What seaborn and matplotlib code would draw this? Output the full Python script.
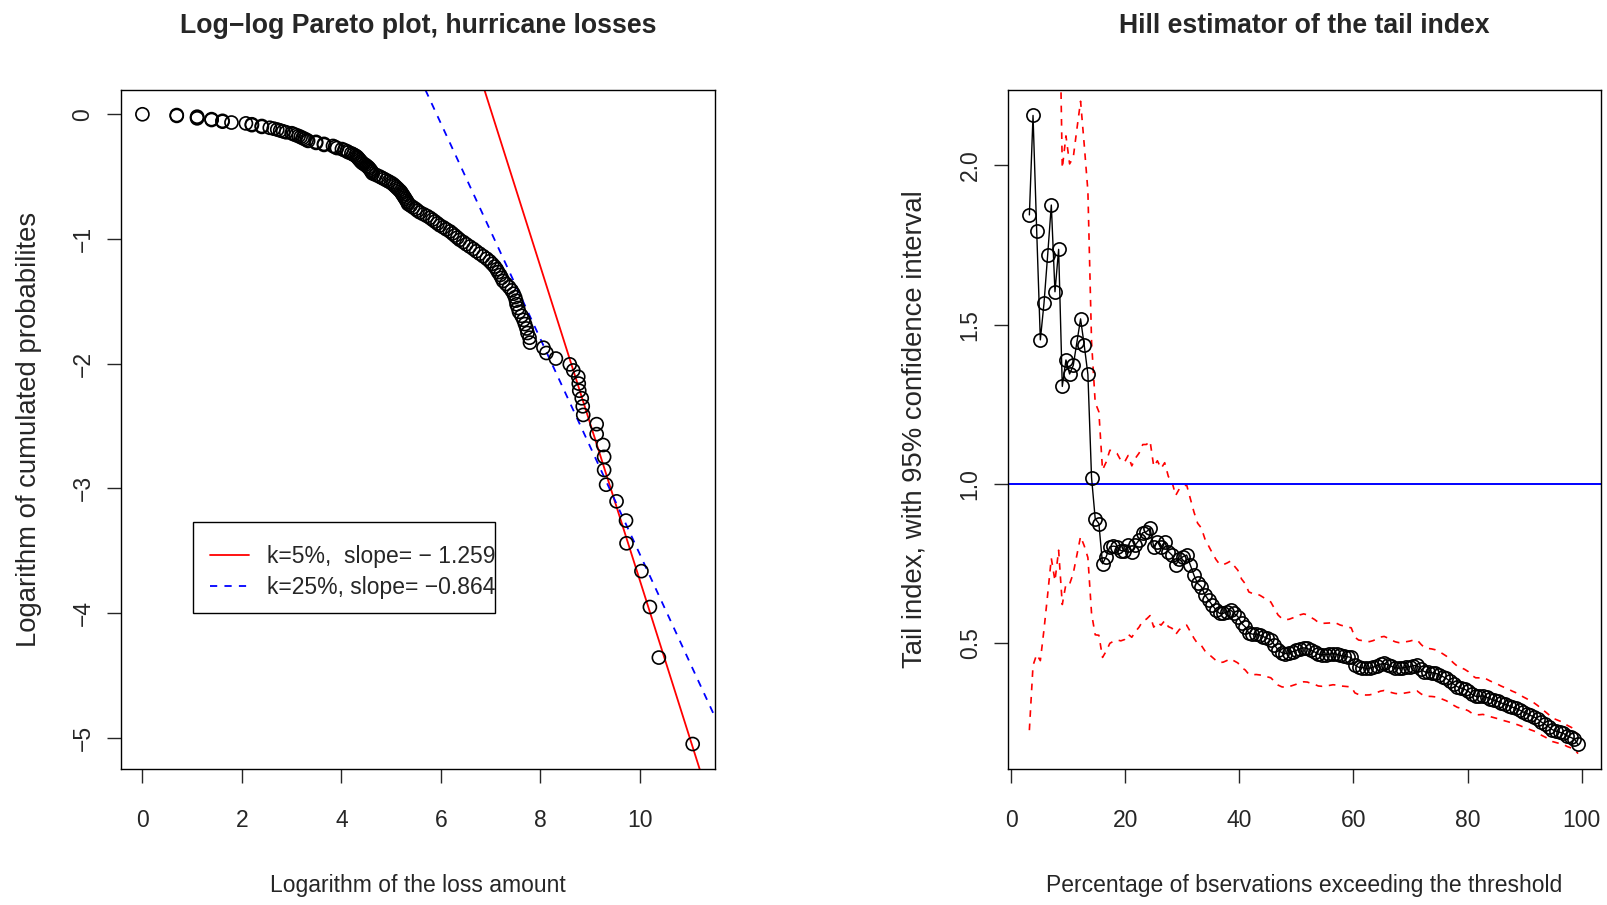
import numpy as np
import pandas as pd
import matplotlib
matplotlib.use("Agg")
import matplotlib.pyplot as plt
import seaborn as sns
from matplotlib.lines import Line2D
from matplotlib.patches import Rectangle

# --- data ---
# log of the loss amounts, sorted (one value per observation)
log_loss = [
    0.00, 0.69, 0.69, 1.10, 1.10, 1.10, 1.39, 1.39, 1.61, 1.61,
    1.79, 2.08, 2.20, 2.20, 2.40, 2.40, 2.56, 2.64, 2.71, 2.77,
    2.83, 2.89, 3.00, 3.04, 3.09, 3.14, 3.18, 3.22, 3.26, 3.30,
    3.33, 3.49, 3.49, 3.65, 3.65, 3.83, 3.87, 3.91, 4.01, 4.06,
    4.11, 4.14, 4.20, 4.24, 4.28, 4.31, 4.33, 4.35, 4.37, 4.39,
    4.41, 4.44, 4.48, 4.51, 4.54, 4.56, 4.58, 4.60, 4.61, 4.63,
    4.69, 4.75, 4.80, 4.85, 4.90, 4.95, 5.00, 5.04, 5.07, 5.10,
    5.13, 5.16, 5.19, 5.21, 5.23, 5.25, 5.27, 5.29, 5.31, 5.33,
    5.34, 5.39, 5.44, 5.49, 5.53, 5.58, 5.65, 5.72, 5.78, 5.83,
    5.88, 5.93, 5.98, 6.05, 6.11, 6.18, 6.23, 6.28, 6.33, 6.38,
    6.45, 6.51, 6.58, 6.65, 6.71, 6.78, 6.85, 6.92, 6.98, 7.03,
    7.08, 7.12, 7.15, 7.19, 7.22, 7.25, 7.31, 7.37, 7.42, 7.46,
    7.49, 7.51, 7.52, 7.55, 7.57, 7.62, 7.66, 7.69, 7.72, 7.74,
    7.78, 7.79, 8.06, 8.12, 8.31, 8.59, 8.66, 8.76, 8.77, 8.78,
    8.83, 8.85, 8.86, 9.13, 9.13, 9.26, 9.28, 9.28, 9.32, 9.53,
    9.72, 9.73, 10.03, 10.20, 10.38, 11.06,
]

# Hill estimates of the tail index, k = 5 ... 155 exceedances
hill_alpha = [
    1.844, 2.156, 1.795, 1.452, 1.567, 1.718, 1.875, 1.603, 1.736, 1.306,
    1.389, 1.345, 1.372, 1.446, 1.518, 1.435, 1.344, 1.020, 0.891, 0.876,
    0.750, 0.772, 0.803, 0.805, 0.803, 0.791, 0.790, 0.809, 0.788, 0.809,
    0.824, 0.847, 0.850, 0.861, 0.803, 0.819, 0.803, 0.819, 0.788, 0.777,
    0.746, 0.764, 0.772, 0.777, 0.746, 0.714, 0.688, 0.678, 0.652, 0.636,
    0.620, 0.605, 0.594, 0.594, 0.599, 0.605, 0.594, 0.584, 0.563, 0.552,
    0.532, 0.529, 0.529, 0.526, 0.521, 0.516, 0.511, 0.495, 0.479, 0.471,
    0.468, 0.470, 0.474, 0.478, 0.483, 0.486, 0.484, 0.478, 0.473, 0.466,
    0.464, 0.465, 0.466, 0.468, 0.466, 0.462, 0.460, 0.458, 0.456, 0.432,
    0.425, 0.424, 0.422, 0.422, 0.425, 0.430, 0.435, 0.437, 0.433, 0.428,
    0.424, 0.422, 0.423, 0.425, 0.427, 0.430, 0.431, 0.420, 0.411, 0.409,
    0.408, 0.406, 0.402, 0.396, 0.390, 0.381, 0.372, 0.364, 0.360, 0.356,
    0.350, 0.340, 0.334, 0.334, 0.335, 0.331, 0.326, 0.322, 0.318, 0.313,
    0.309, 0.305, 0.300, 0.296, 0.291, 0.285, 0.280, 0.274, 0.269, 0.262,
    0.253, 0.246, 0.238, 0.229, 0.225, 0.221, 0.218, 0.210, 0.205, 0.200,
    0.183,
]

n_obs = len(log_loss)
k_values = list(range(5, 5 + len(hill_alpha)))

fit_labels = ["k=5%,  slope= \u2212 1.259", "k=25%, slope= \u22120.864"]
fit_slopes = [-1.259, -0.864]
fit_intercepts = [8.85, 5.11]

# --- derived tables ---
pareto = pd.DataFrame({"log_loss": np.sort(log_loss)})
pareto["log_surv"] = np.log(np.arange(n_obs, 0, -1) / n_obs)

hill = pd.DataFrame({"k": k_values, "alpha": hill_alpha})
hill["pct"] = 100 * hill["k"] / n_obs
hill["upper"] = hill["alpha"] * (1 + 1.96 / np.sqrt(hill["k"]))
hill["lower"] = hill["alpha"] * (1 - 1.96 / np.sqrt(hill["k"]))

sns.set_style("ticks")
plt.rcParams["font.family"] = ["Liberation Sans", "DejaVu Sans"]
plt.rcParams.update({
    "axes.linewidth": 1.0,
    "xtick.major.size": 10, "ytick.major.size": 10,
    "xtick.major.width": 1.0, "ytick.major.width": 1.0,
    "xtick.labelsize": 16.5, "ytick.labelsize": 16.5,
    "axes.edgecolor": "black",
})

fig = plt.figure(figsize=(16.08, 9.05), dpi=100)
ax1 = fig.add_axes([0.0752, 0.1503, 0.3695, 0.7503])
ax2 = fig.add_axes([0.6269, 0.1503, 0.3688, 0.7503])

# --- left: log-log Pareto plot ---
sns.scatterplot(data=pareto, x="log_loss", y="log_surv", ax=ax1,
                marker="o", s=88, facecolor="none", edgecolor="black",
                linewidth=1.2, zorder=3)
line_styles = [dict(color="red", lw=1.3, ls="-"),
               dict(color="blue", lw=1.3, ls=(0, (4, 4)))]
handles = []
for slope, icpt, lab, st in zip(fit_slopes, fit_intercepts, fit_labels, line_styles):
    ax1.axline((0, icpt), slope=slope, **st, zorder=2)
    handles.append(Line2D([], [], label=lab, **st))

ax1.set_xlim(-0.432, 11.51)
ax1.set_ylim(-5.25, 0.195)
ax1.set_xticks([0, 2, 4, 6, 8, 10])
ax1.set_yticks([0, -1, -2, -3, -4, -5])

# R-style legend box: text runs right up to the border
ax1.add_patch(Rectangle((0.1209, 0.2294), 0.5091, 0.1345, transform=ax1.transAxes,
                        facecolor="white", edgecolor="black", lw=1.0, zorder=4))
leg = ax1.legend(handles=handles, loc="upper left", bbox_to_anchor=(0.1498, 0.3301),
                 fontsize=16.5, frameon=False, handlelength=1.7, borderpad=0,
                 labelspacing=0.35, handletextpad=0.8, borderaxespad=0)
leg.set_zorder(5)

ax1.set_title("Log\u2212log Pareto plot, hurricane losses", fontsize=19.2,
              fontweight="bold", y=1.0948, pad=0, va="center")
ax1.set_xlabel("Logarithm of the loss amount", fontsize=16.5)
ax1.set_ylabel("Logarithm of cumulated probabilites", fontsize=19.8)
ax1.xaxis.set_label_coords(0.5, -0.1545)
ax1.yaxis.set_label_coords(-0.1335, 0.5)

# --- right: Hill estimator ---
sns.lineplot(data=hill, x="pct", y="upper", ax=ax2, color="red", lw=1.2,
             linestyle=(0, (4, 4)), estimator=None, sort=False)
sns.lineplot(data=hill, x="pct", y="lower", ax=ax2, color="red", lw=1.2,
             linestyle=(0, (4, 4)), estimator=None, sort=False)
ax2.axhline(1.0, color="blue", lw=1.4)
sns.lineplot(data=hill, x="pct", y="alpha", ax=ax2, color="black", lw=1.0,
             marker="o", markersize=9.5, markerfacecolor="none",
             markeredgecolor="black", markeredgewidth=1.2,
             estimator=None, sort=False, zorder=3)
ax2.set_xlim(-0.53, 103.4)
ax2.set_ylim(0.106, 2.236)
ax2.set_xticks([0, 20, 40, 60, 80, 100])
ax2.set_yticks([0.5, 1.0, 1.5, 2.0])
ax2.set_yticklabels(["0.5", "1.0", "1.5", "2.0"])
ax2.set_title("Hill estimator of the tail index", fontsize=19.2,
              fontweight="bold", y=1.0948, pad=0, va="center")
ax2.set_xlabel("Percentage of bservations exceeding the threshold", fontsize=16.5)
ax2.set_ylabel("Tail index, with 95% confidence interval", fontsize=19.8)
ax2.xaxis.set_label_coords(0.5, -0.1545)
ax2.yaxis.set_label_coords(-0.1355, 0.5)

for ax in (ax1, ax2):
    for sp in ax.spines.values():
        sp.set_visible(True)
        sp.set_color("black")
    ax.tick_params(axis="x", direction="out", pad=18.7)
    ax.tick_params(axis="y", direction="out", pad=9)
    plt.setp(ax.get_yticklabels(), rotation=90, va="center")
    ax.grid(False)

fig.savefig("out.png", dpi=100, facecolor="white")
